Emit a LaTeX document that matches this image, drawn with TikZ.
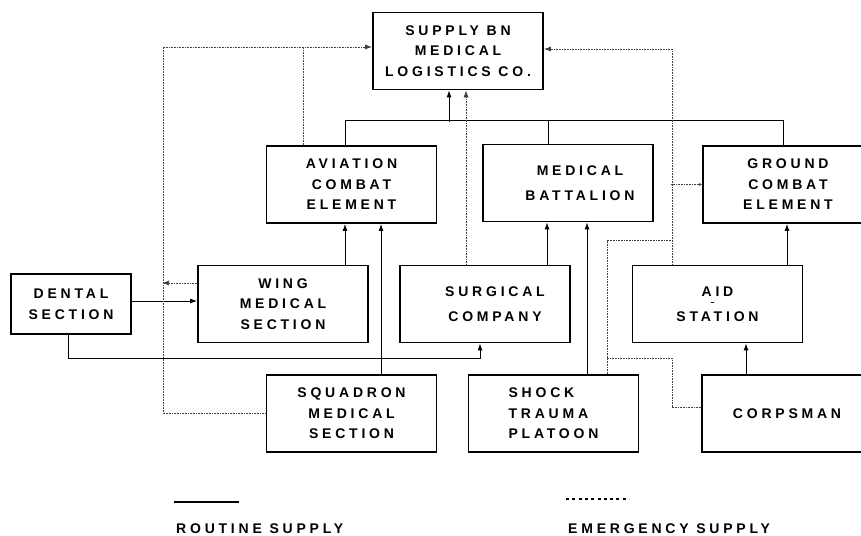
\documentclass[tikz,border=0pt]{standalone}
\usepackage{fontspec}
\setmainfont{Liberation Sans}[LetterSpace=27]
\usetikzlibrary{arrows.meta}
\begin{document}
\begin{tikzpicture}[x=1pt,y=-1pt,>={Latex[length=7pt,width=5pt]},
  txt/.style={align=center,inner sep=0pt,font=\bfseries\fontsize{14}{20.5}\selectfont},
  unit/.style={txt,draw,line width=1.8pt,minimum width=170pt,minimum height=77pt},
  wide/.style={font=\bfseries\fontsize{14}{25}\selectfont},
  route/.style={line width=.9pt},
  emerg/.style={line width=.8pt,black!75,dash pattern=on .8pt off .8pt}]
\useasboundingbox (0,0) rectangle (861,535);
% units
\node[unit] (supply) at (458,51) {SUPPLY BN\\MEDICAL\\LOGISTICS CO.};
\node[unit] (aviation) at (351.5,184.5) {AVIATION\\COMBAT\\ELEMENT};
\node[unit,label={[txt,wide,xshift=12pt]center:{MEDICAL\\BATTALION}}] (medbat) at (568,183) {};
\node[unit] (ground) at (788,184.5) {GROUND\\COMBAT\\ELEMENT};
\node[unit,minimum width=120pt,minimum height=60pt] (dental) at (71,304) {DENTAL\\SECTION};
\node[unit] (wing) at (283,304) {WING\\MEDICAL\\SECTION};
\node[unit,label={[txt,wide,xshift=10pt]center:{SURGICAL\\COMPANY}}] (surgical) at (485,304) {};
\node[unit,wide] (aid) at (717.5,304) {AID\\STATION};
\node[unit] (squadron) at (351.5,413.5) {SQUADRON\\MEDICAL\\SECTION};
\node[unit,align=left] (shock) at (553.5,413.5) {SHOCK\\TRAUMA\\PLATOON};
\node[unit] (corpsman) at (787,413.5) {CORPSMAN};
\draw[line width=1pt] (710.5,302) -- (713.5,302);
% routine supply
\draw[route] ([xshift=-6.5pt]aviation.north) -- ++(0,-25) -| ([xshift=-5pt]ground.north);
\draw[route] ([xshift=-20pt]medbat.north) -- ++(0,-24);
\draw[route,<-] ([xshift=-9pt]supply.south) -- ++(0,32);
\draw[route,->] ([xshift=62pt]wing.north) -- ([xshift=-6.5pt]aviation.south);
\draw[route,->] ([xshift=29.5pt]squadron.north) -- ([xshift=29.5pt]aviation.south);
\draw[route,->] ([yshift=3pt]dental.east) -- ([yshift=3pt]wing.west);
\draw[route,->] ([xshift=-3pt]dental.south) -- ++(0,24) -| ([xshift=-5pt]surgical.south);
\draw[route,->] ([xshift=62pt]surgical.north) -- ([xshift=-21pt]medbat.south);
\draw[route,->] ([xshift=33.5pt]shock.north) -- ([xshift=19pt]medbat.south);
\draw[route,->] ([xshift=69.5pt]aid.north) -- ([xshift=-1pt]ground.south);
\draw[route,->] ([xshift=-41pt]corpsman.north) -- ([xshift=28.5pt]aid.south);
% emergency supply
\coordinate (lft) at (163,47);
\draw[emerg,->] (squadron.west) -| (lft) -- ([yshift=4pt]supply.west);
\draw[emerg,->] ([yshift=21pt]wing.west) -- ++(-35,0);
\draw[emerg] ([xshift=-48.5pt]aviation.north) -- ++(0,-99);
\draw[emerg,->] ([xshift=-19pt]surgical.north) -- ([xshift=8pt]supply.south);
\draw[emerg,->] ([xshift=-45.5pt]aid.north) |- ([yshift=2pt]supply.east);
\draw[emerg,-{Latex[length=3pt,width=3pt]}] ([xshift=-31pt]ground.west) -- (ground.west);
\draw[emerg] ([xshift=53.5pt]shock.north) |- ([xshift=-45.5pt,yshift=24pt]aid.north);
\draw[emerg] ([yshift=6.5pt]corpsman.west) -- ++(-29,0) |- ([xshift=53.5pt,yshift=16pt]shock.north);
% legend
\draw[line width=1.3pt] (174,502) -- (239,502);
\draw[line width=1.6pt,dash pattern=on 3pt off 3.3pt] (566,499) -- (629,499);
\node[txt,anchor=base west] (routine) at (176,533) {ROUTINE SUPPLY};
\node[txt,anchor=base west] (emergency) at (568,533) {EMERGENCY SUPPLY};
\end{tikzpicture}
\end{document}
